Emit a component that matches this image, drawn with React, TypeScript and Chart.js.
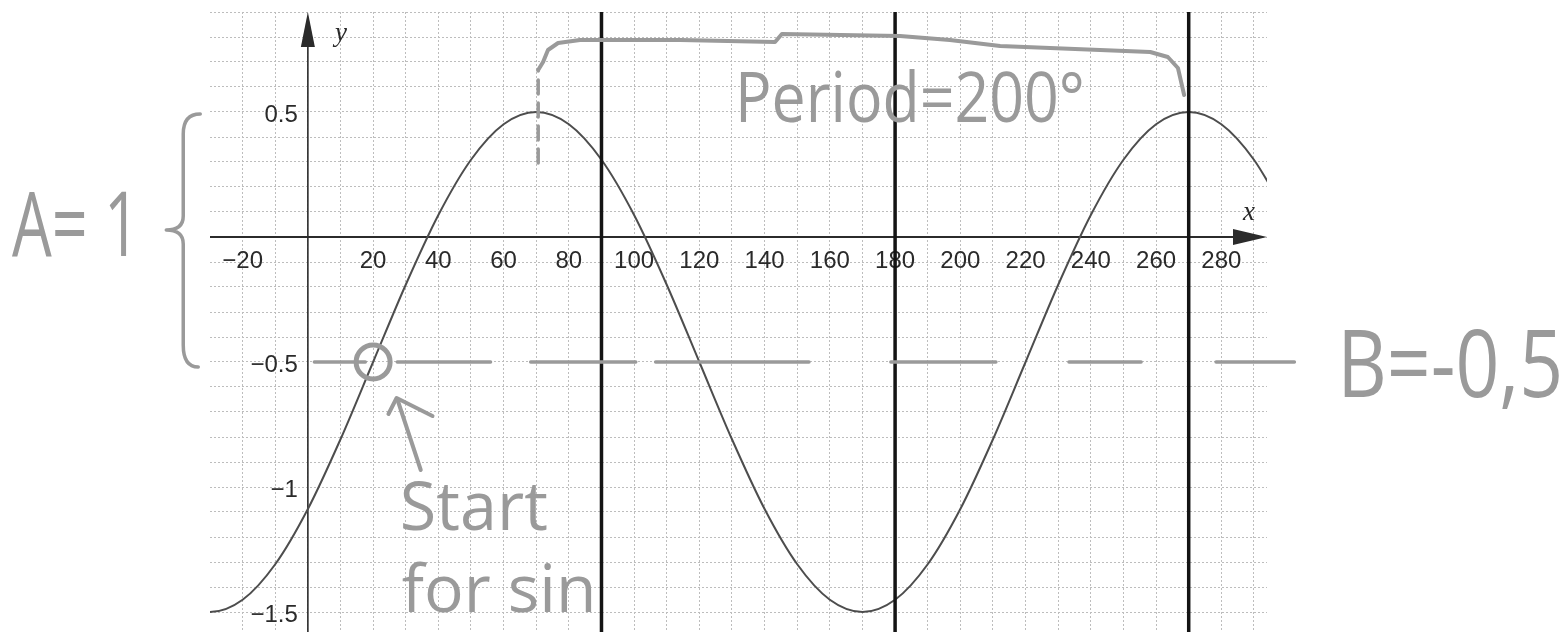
import { useEffect, useRef } from "react";
import { Chart, registerables } from "chart.js";

Chart.register(...registerables);

// Axis window (degrees on x, function value on y)
const X_MIN = -30;
const X_MAX = 294;
const Y_MIN = -1.58;
const Y_MAX = 0.9;

// f(x) = sin(1.8(x - 20)) - 0.5, read every 10 degrees (one sample past each edge)
const curveX = [-40, -30, -20, -10, 0, 10, 20, 30, 40, 50, 60, 70, 80, 90, 100, 110, 120, 130, 140, 150, 160, 170, 180, 190, 200, 210, 220, 230, 240, 250, 260, 270, 280, 290, 300];
const curveY = [-1.451, -1.5, -1.451, -1.309, -1.088, -0.809, -0.5, -0.191, 0.088, 0.309, 0.451, 0.5, 0.451, 0.309, 0.088, -0.191, -0.5, -0.809, -1.088, -1.309, -1.451, -1.5, -1.451, -1.309, -1.088, -0.809, -0.5, -0.191, 0.088, 0.309, 0.451, 0.5, 0.451, 0.309, 0.088];

// Ruled vertical lines
const guideX = [90, 180, 270];

// Axis tick labels
const xTickLabels = [-20, 20, 40, 60, 80, 100, 120, 140, 160, 180, 200, 220, 240, 260, 280];
const yTickLabels = [0.5, -0.5, -1, -1.5];

// Pencil notes: midline B = -0.5 drawn as broken strokes
const midlineY = -0.5;
const midlineStart = [2, 27.4, 68.3, 106.6, 178.7, 233.3, 278.4];
const midlineEnd = [17.6, 56, 100.5, 153.6, 210.9, 255.4, 302.4];

// Circled starting point of the sine
const startX = 20;
const startY = -0.5;

// Period bracket from the peak at 70 to the peak at 270
const bracketTickX = [70.6, 70.6];
const bracketTickY = [0.296, 0.668];
const bracketX = [70.6, 72.1, 73.6, 76.7, 83.4, 114.1, 143.2, 145.3, 181.5, 196.8, 212.2, 242.8, 258.2, 263.6, 266.7, 268.6];
const bracketY = [0.668, 0.7, 0.748, 0.776, 0.788, 0.788, 0.78, 0.812, 0.804, 0.788, 0.764, 0.748, 0.74, 0.72, 0.676, 0.568];

// Arrow pointing at the start point
const arrowShaftX = [34.6, 27.4];
const arrowShaftY = [-0.932, -0.648];
const arrowHeadX = [24.7, 27.2, 38.2];
const arrowHeadY = [-0.708, -0.644, -0.716];

const PENCIL = "#9a9a9a";
const HAND_FONT = '"Open Sans", "DejaVu Sans", sans-serif';

const pts = (xs: number[], ys: number[]) => xs.map((x, i) => ({ x, y: ys[i] }));

const fmt = (v: number) => (v < 0 ? "\u2212" + Math.abs(v) : String(v));

const gridXs: number[] = [];
for (let v = -20; v <= 290; v += 10) gridXs.push(v);
const gridYs: number[] = [];
for (let k = -15; k <= 9; k++) gridYs.push(Math.round(k * 10) / 100);

const axesPlugin = {
  id: "axesCross",
  beforeDatasetsDraw(chart: any) {
    const { ctx, chartArea: a, scales } = chart;
    const x = scales.x;
    const y = scales.y;
    const x0 = x.getPixelForValue(0);
    const y0 = y.getPixelForValue(0);
    ctx.save();
    ctx.strokeStyle = "#2b2b2b";
    ctx.fillStyle = "#2b2b2b";
    ctx.lineWidth = 2;
    ctx.beginPath();
    ctx.moveTo(a.left, y0);
    ctx.lineTo(a.right - 30, y0);
    ctx.stroke();
    ctx.lineWidth = 1.6;
    ctx.beginPath();
    ctx.moveTo(x0, a.bottom);
    ctx.lineTo(x0, a.top + 30);
    ctx.stroke();
    // arrowheads
    ctx.beginPath();
    ctx.moveTo(a.right, y0);
    ctx.lineTo(a.right - 34, y0 - 8);
    ctx.lineTo(a.right - 34, y0 + 8);
    ctx.closePath();
    ctx.fill();
    ctx.beginPath();
    ctx.moveTo(x0, a.top);
    ctx.lineTo(x0 - 7, a.top + 35);
    ctx.lineTo(x0 + 7, a.top + 35);
    ctx.closePath();
    ctx.fill();
    // tick labels
    ctx.fillStyle = "#2a2a2a";
    ctx.font = '24px "Liberation Sans", Arial, sans-serif';
    ctx.textAlign = "center";
    ctx.textBaseline = "middle";
    xTickLabels.forEach((v) => ctx.fillText(fmt(v), x.getPixelForValue(v), y0 + 24));
    ctx.textAlign = "right";
    yTickLabels.forEach((v) => ctx.fillText(fmt(v), x0 - 10, y.getPixelForValue(v) + 3));
    // axis names
    ctx.font = 'italic 27px "Liberation Serif", "DejaVu Serif", serif';
    ctx.textAlign = "center";
    ctx.textBaseline = "alphabetic";
    ctx.fillText("x", a.right - 18, y0 - 17);
    ctx.fillText("y", x0 + 33, a.top + 29);
    ctx.restore();
  },
};

const notesPlugin = {
  id: "pencilNotes",
  afterDatasetsDraw(chart: any) {
    const { ctx, scales } = chart;
    const x = scales.x;
    const y = scales.y;
    const px = (v: number) => x.getPixelForValue(v);
    const py = (v: number) => y.getPixelForValue(v);
    ctx.save();
    ctx.fillStyle = PENCIL;
    ctx.strokeStyle = PENCIL;
    ctx.lineCap = "round";
    ctx.lineJoin = "round";
    ctx.textAlign = "left";
    ctx.textBaseline = "alphabetic";

    // curly brace spanning one amplitude (0.5 down to -0.5)
    const bx = px(-38.2);
    const tipX = px(-43.4);
    const topY = py(0.5);
    const midY = py(0.028);
    const botY = py(-0.52);
    ctx.lineWidth = 3.5;
    ctx.beginPath();
    ctx.moveTo(bx + 17, topY + 2);
    ctx.quadraticCurveTo(bx, topY + 2, bx, topY + 22);
    ctx.lineTo(bx, midY - 14);
    ctx.quadraticCurveTo(bx, midY, tipX, midY);
    ctx.quadraticCurveTo(bx, midY, bx, midY + 14);
    ctx.lineTo(bx, botY - 22);
    ctx.quadraticCurveTo(bx, botY, bx + 15, botY);
    ctx.stroke();

    const note = (text: string, vx: number, vy: number, size: number, maxW: number) => {
      ctx.font = `${size}px ${HAND_FONT}`;
      ctx.fillText(text, px(vx), py(vy), maxW);
    };
    note("A= 1", -90.7, -0.076, 90, 128);
    note("B=-0,5", 315.5, -0.64, 94, 226);
    note("Period=200\u00b0", 130.9, 0.46, 70, 350);
    note("Start", 28.2, -1.172, 68, 148);
    note("for sin", 28.8, -1.5, 66, 212);
    ctx.restore();
  },
};

export default function App() {
  const canvasRef = useRef<HTMLCanvasElement | null>(null);

  useEffect(() => {
    const canvas = canvasRef.current;
    if (!canvas) return;

    const midline: any[] = [];
    midlineStart.forEach((s, i) => {
      midline.push({ x: s, y: midlineY }, { x: midlineEnd[i], y: midlineY });
      if (i < midlineStart.length - 1) midline.push({ x: (midlineEnd[i] + midlineStart[i + 1]) / 2, y: null });
    });

    const pencil = { borderColor: PENCIL, pointRadius: 0, tension: 0, clip: false as const, borderCapStyle: "round" as const, borderJoinStyle: "round" as const };

    const chart = new Chart(canvas, {
      type: "line",
      data: {
        datasets: [
          {
            label: "f(x)",
            data: pts(curveX, curveY),
            borderColor: "#4d4d4d",
            borderWidth: 2,
            pointRadius: 0,
            cubicInterpolationMode: "monotone",
            order: 5,
          },
          ...guideX.map((g) => ({
            label: "guide " + g,
            data: [
              { x: g, y: Y_MAX },
              { x: g, y: Y_MIN },
            ],
            borderColor: "#141414",
            borderWidth: 3.5,
            pointRadius: 0,
            order: 4,
          })),
          { label: "midline", data: midline, borderWidth: 3.5, spanGaps: false, order: 2, ...pencil },
          { label: "bracket tick", data: pts(bracketTickX, bracketTickY), borderWidth: 3.5, borderDash: [14, 9], order: 2, ...pencil },
          { label: "bracket", data: pts(bracketX, bracketY), borderWidth: 4, order: 2, ...pencil },
          { label: "arrow shaft", data: pts(arrowShaftX, arrowShaftY), borderWidth: 4, order: 2, ...pencil },
          { label: "arrow head", data: pts(arrowHeadX, arrowHeadY), borderWidth: 4, order: 2, ...pencil },
          {
            label: "start",
            data: [{ x: startX, y: startY }],
            showLine: false,
            pointRadius: 17,
            pointBorderWidth: 5,
            pointBorderColor: PENCIL,
            pointBackgroundColor: "rgba(0,0,0,0)",
            clip: false,
            order: 1,
          },
        ],
      },
      options: {
        responsive: false,
        animation: false,
        devicePixelRatio: 1,
        layout: { autoPadding: false, padding: { left: 210, right: 298, top: 12, bottom: 0 } },
        plugins: { legend: { display: false }, tooltip: { enabled: false } },
        scales: {
          x: {
            type: "linear",
            min: X_MIN,
            max: X_MAX,
            border: { display: false, dash: [2, 2] },
            grid: { color: "#bdbdbd", lineWidth: 1, drawTicks: false },
            ticks: { display: false },
            afterBuildTicks: (s: any) => {
              s.ticks = gridXs.map((v) => ({ value: v }));
            },
          },
          y: {
            type: "linear",
            min: Y_MIN,
            max: Y_MAX,
            border: { display: false, dash: [2, 2] },
            grid: { color: "#bdbdbd", lineWidth: 1, drawTicks: false },
            ticks: { display: false },
            afterBuildTicks: (s: any) => {
              s.ticks = gridYs.map((v) => ({ value: v }));
            },
          },
        },
      } as any,
      plugins: [axesPlugin, notesPlugin],
    });

    return () => chart.destroy();
  }, []);

  return (
    <div style={{ position: "absolute", left: 0, top: 0, width: 1565, height: 632, background: "#fff" }}>
      <canvas ref={canvasRef} width={1565} height={632} style={{ display: "block" }} />
    </div>
  );
}
